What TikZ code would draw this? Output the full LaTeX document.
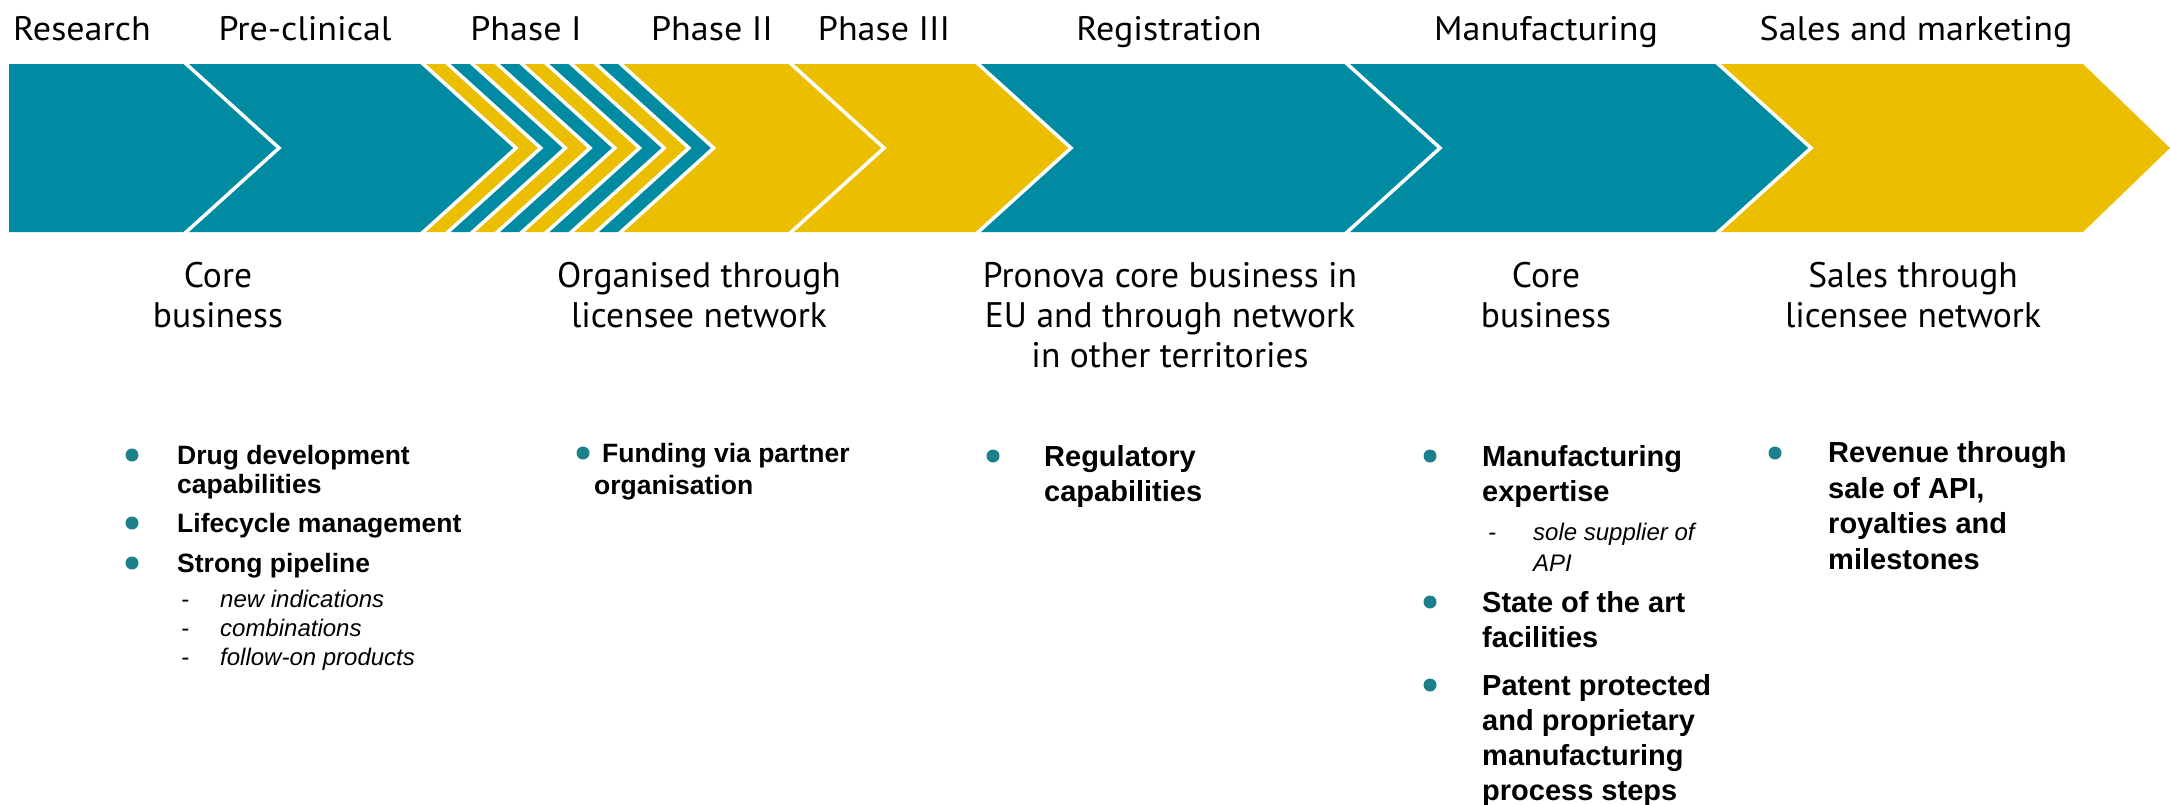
\documentclass[tikz,border=0pt]{standalone}
\usepackage{fontspec}
\setmainfont{Liberation Sans}
\newfontfamily\headfont[FakeStretch=1.06]{PT Sans}
\newfontfamily\underfont{PT Sans}
\definecolor{teal1}{RGB}{0,139,163}
\definecolor{gold1}{RGB}{235,190,0}
\definecolor{dotc}{RGB}{27,128,140}
\tikzset{
  head/.style={font=\headfont\fontsize{34}{34}\selectfont, anchor=base, inner sep=0pt},
  under/.style={font=\underfont\fontsize{35.5}{40}\selectfont, anchor=base, align=center, inner sep=0pt},
  bl/.style={font=\bfseries\fontsize{26.5}{29}\selectfont, anchor=base west, align=left, inner sep=0pt},
  br/.style={font=\bfseries\fontsize{29}{35.5}\selectfont, anchor=base west, align=left, inner sep=0pt},
  itl/.style={font=\itshape\fontsize{24}{29}\selectfont, anchor=base west, align=left, inner sep=0pt},
  itr/.style={font=\itshape\fontsize{24}{31}\selectfont, anchor=base west, align=left, inner sep=0pt},
  dot/.style={circle, fill=dotc, minimum size=13pt, inner sep=0pt},
  sep/.style={draw=white, line width=3.5pt}
}
\begin{document}
\begin{tikzpicture}[x=1pt,y=-1pt]
\useasboundingbox (0,0) rectangle (2170,804);
% band
\fill[teal1] (9,64) -- (9,232) -- (184,232) -- (279,148) -- (184,64) -- cycle;
\foreach \a/\b/\c in {184/421/teal1, 421/445.7/gold1, 445.7/470.4/teal1, 470.4/495.1/gold1,
  495.1/519.8/teal1, 519.8/544.5/gold1, 544.5/569.2/teal1, 569.2/593.9/gold1, 593.9/618.6/teal1,
  618.6/789/gold1, 789/976/gold1, 976/1345/teal1, 1345/1716/teal1}
  \fill[\c] (\a,64) -- ({\a+95},148) -- (\a,232) -- (\b,232) -- ({\b+95},148) -- (\b,64) -- cycle;
\fill[gold1] (1716,64) -- (1811,148) -- (1716,232) -- (2083,232) -- (2170,148) -- (2083,64) -- cycle;
\foreach \a in {184,421,445.7,470.4,495.1,519.8,544.5,569.2,593.9,618.6,789,976,1345,1716}
  \draw[sep] (\a,62) -- ({\a+95},148) -- (\a,234);
% headings
\node[head] (h1) at (82,40) {Research};
\node[head] (h2) at (305,40) {Pre-clinical};
\node[head] (h3) at (526,40) {Phase I};
\node[head] (h4) at (712,40) {Phase II};
\node[head] (h5) at (884,40) {Phase III};
\node[head] (h6) at (1169,40) {Registration};
\node[head] (h7) at (1546,40) {Manufacturing};
\node[head] (h8) at (1916,40) {Sales and marketing};
% texts under band (anchor = baseline of last line)
\node[under] (u1) at (218,327) {Core\\business};
\node[under] (u2) at (699,327) {Organised through\\licensee network};
\node[under] (u3) at (1170,367) {Pronova core business in\\EU and through network\\in other territories};
\node[under] (u4) at (1546,327) {Core\\business};
\node[under] (u5) at (1913,327) {Sales through\\licensee network};
% column 1
\node[dot] (d1a) at (132,455) {};
\node[dot] (d1b) at (132,523) {};
\node[dot] (d1c) at (132,563) {};
\node[bl] (t1a) at (177,493.5) {Drug development\\capabilities};
\node[bl] (t1b) at (177,532.5) {Lifecycle management};
\node[bl] (t1c) at (177,572.5) {Strong pipeline};
\node[itl] (m1) at (181,665.5) {-\\-\\-};
\node[itl] (t1d) at (220,665.5) {new indications\\combinations\\follow-on products};
% column 2
\node[dot] (d2) at (583,453) {};
\node[bl, font=\bfseries\fontsize{26.5}{32}\selectfont] (t2) at (594,494) {\hspace*{8pt}Funding via partner\\organisation};
% column 3
\node[dot] (d3) at (993,456) {};
\node[br] (t3) at (1044,501.5) {Regulatory\\capabilities};
% column 4
\node[dot] (d4a) at (1430,456) {};
\node[br] (t4a) at (1482,501.5) {Manufacturing\\expertise};
\node[itr] (m4) at (1488,540) {-};
\node[itr] (t4b) at (1533,571) {sole supplier of\\API};
\node[dot] (d4b) at (1430,602) {};
\node[br] (t4c) at (1482,647.5) {State of the art\\facilities};
\node[dot] (d4c) at (1430,685) {};
\node[br, font=\bfseries\fontsize{29}{35}\selectfont] (t4d) at (1482,800.5) {Patent protected\\and proprietary\\manufacturing\\process steps};
% column 5
\node[dot] (d5) at (1775,453) {};
\node[br] (t5) at (1828,569) {Revenue through\\sale of API,\\royalties and\\milestones};
\end{tikzpicture}
\end{document}
